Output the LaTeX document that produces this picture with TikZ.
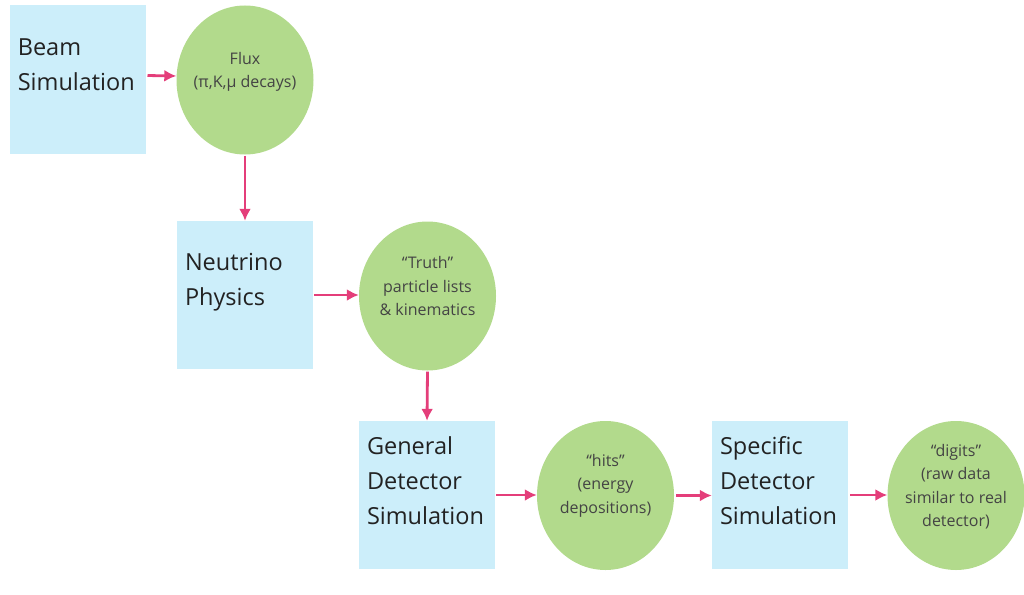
\documentclass[tikz,border=0pt]{standalone}
\usepackage{fontspec}
\setmainfont{Open Sans}
\usepackage{tikz}
\usetikzlibrary{arrows.meta}
\usetikzlibrary{shapes.geometric}
\definecolor{skyblue}{RGB}{204, 238, 250}
\definecolor{leafgreen}{RGB}{178, 218, 140}
\definecolor{rosepink}{RGB}{228, 62, 122}
\definecolor{inkgray}{RGB}{68, 68, 68}
\definecolor{inkblack}{RGB}{34, 34, 34}
\tikzset{
  simbox/.style={fill=skyblue, minimum width=136pt, minimum height=148pt, inner sep=0pt},
  databubble/.style={ellipse, fill=leafgreen, minimum width=137pt, minimum height=149pt, inner sep=0pt},
  boxtext/.style={anchor=north west, align=left, inner sep=0pt, text=inkblack, font=\fontsize{23.5}{35}\selectfont},
  bubbletext/.style={align=center, inner sep=0pt, text=inkgray, font=\fontsize{16}{23.5}\selectfont},
  flow/.style={rosepink, line width=2.8pt, -{Latex[length=12pt,width=12pt]}, shorten <=1pt}
}
\begin{document}
\begin{tikzpicture}[x=1pt, y=-1pt]
            \useasboundingbox (0,0) rectangle (1024,594);
            \node[simbox]     (beam)     at ( 78.3, 79.5) {};
            \node[simbox]     (neutrino) at (245.0,295.0) {};
            \node[simbox]     (general)  at (427.0,495.0) {};
            \node[simbox]     (specific) at (780.0,495.0) {};
            \node[databubble] (flux)     at (245.0, 80.0) {};
            \node[databubble] (truth)    at (427.5,296.0) {};
            \node[databubble] (hits)     at (605.5,495.5) {};
            \node[databubble] (digits)   at (956.0,495.5) {};
            \node[boxtext] (beamtxt)     at ([xshift=7.5pt, yshift=-33pt]beam.north west)     {Beam\\Simulation};
            \node[boxtext] (neutrinotxt) at ([xshift=8pt,   yshift=-32pt]neutrino.north west) {Neutrino\\Physics};
            \node[boxtext] (generaltxt)  at ([xshift=8pt,   yshift=-16pt]general.north west)  {General\\Detector\\Simulation};
            \node[boxtext] (specifictxt) at ([xshift=8pt,   yshift=-16pt]specific.north west) {Specific\\Detector\\Simulation};
            \node[bubbletext] (fluxtxt)   at ([yshift=8pt]flux.center)    {Flux\\(π,K,μ decays)};
            \node[bubbletext] (truthtxt)  at ([yshift=10pt]truth.center)  {“Truth”\\particle lists\\\& kinematics};
            \node[bubbletext] (hitstxt)   at ([yshift=10pt]hits.center)   {“hits”\\(energy\\depositions)};
            \node[bubbletext] (digitstxt) at ([yshift=9pt]digits.center)  {“digits”\\(raw data\\similar to real\\detector)};
            \draw[flow] ([yshift=4pt]beam.east) -- ([yshift=4pt]flux.west);
            \draw[flow] (flux.south) -- (neutrino.north);
            \draw[flow] (neutrino.east) -- (neutrino.east -| truth.west);
            \draw[flow] (truth.south) -- (general.north);
            \draw[flow] (general.east) -- (general.east -| hits.west);
            \draw[flow, shorten <=2pt] (hits.east) -- (hits.east -| specific.west);
            \draw[flow, shorten <=2pt] (specific.east) -- (specific.east -| digits.west);
\end{tikzpicture}
\end{document}
